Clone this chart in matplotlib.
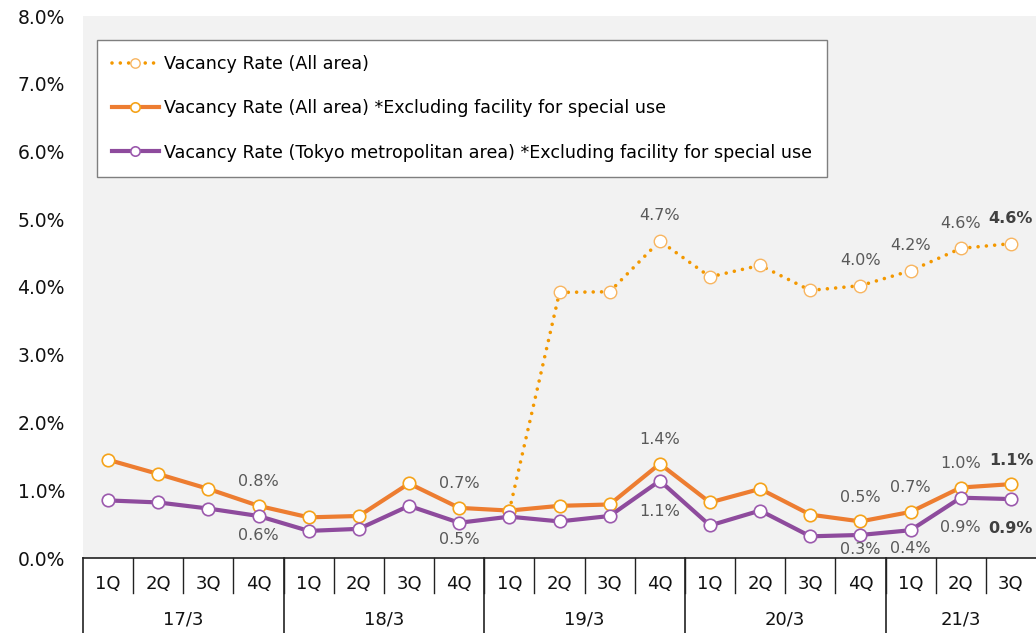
import matplotlib
matplotlib.use("Agg")
import matplotlib.pyplot as plt
import numpy as np

# quarters / fiscal years on the x axis
quarters = ["1Q", "2Q", "3Q", "4Q"] * 4 + ["1Q", "2Q", "3Q"]
years = ["17/3", "18/3", "19/3", "20/3", "21/3"]
year_sizes = [4, 4, 4, 4, 3]

# vacancy rates in %
all_area = [np.nan] * 8 + [0.70, 3.92, 3.93, 4.68, 4.15, 4.32, 3.95, 4.02, 4.24, 4.57, 4.64]
all_excl = [1.45, 1.24, 1.02, 0.77, 0.60, 0.62, 1.10, 0.74, 0.70, 0.77, 0.79, 1.39,
            0.82, 1.02, 0.64, 0.54, 0.68, 1.04, 1.09]
tokyo_excl = [0.85, 0.82, 0.73, 0.62, 0.40, 0.43, 0.77, 0.52, 0.61, 0.54, 0.62, 1.14,
              0.48, 0.70, 0.32, 0.34, 0.41, 0.89, 0.87]

labels = ["Vacancy Rate (All area)",
          "Vacancy Rate (All area) *Excluding facility for special use",
          "Vacancy Rate (Tokyo metropolitan area) *Excluding facility for special use"]

# which points carry a data label
all_area_lbl = [11, 15, 16, 17, 18]
all_excl_lbl = [3, 7, 11, 15, 16, 17, 18]
tokyo_lbl = [3, 7, 11, 15, 16, 17, 18]

W, H = 1036, 633
fig = plt.figure(figsize=(W / 100, H / 100), dpi=100)
left, right, bottom, top = 83, 1036, 558, 16
ax = fig.add_axes([left / W, 1 - bottom / H, (right - left) / W, (bottom - top) / H])
ax.set_facecolor("#f2f2f2")

x = np.arange(len(quarters))
c_dot = "#f39800"
c_org = "#ed7d31"
c_pur = "#8e4b9d"

ax.plot(x, all_area, color=c_dot, lw=2.6, linestyle=(0, (0.001, 2.3)),
        dash_capstyle="round", marker="o", ms=9, mfc="white", mec="#f8b560",
        mew=1, label=labels[0], zorder=3)
ax.plot(x, all_excl, color=c_org, lw=3, marker="o", ms=9, mfc="white",
        mec="#f5a31a", mew=1.2, label=labels[1], zorder=4)
ax.plot(x, tokyo_excl, color=c_pur, lw=3, marker="o", ms=9, mfc="white",
        mec="#9b59ad", mew=1.2, label=labels[2], zorder=4)

last = len(quarters) - 1


def put_labels(vals, idxs, dy_px):
    for i in idxs:
        dy = dy_px[i] if isinstance(dy_px, dict) else dy_px
        bold = i == last
        ax.annotate(f"{vals[i]:.1f}%", (x[i], vals[i]), xytext=(0, dy * 0.72),
                    textcoords="offset points", ha="center", va="center",
                    fontsize=11.5, color="#404040" if bold else "#595959",
                    fontweight="bold" if bold else "normal", zorder=5,
                    annotation_clip=False)


put_labels(all_area, all_area_lbl, 25)
put_labels(all_excl, all_excl_lbl, 24)
put_labels(tokyo_excl, tokyo_lbl, {3: -20, 7: -17, 11: -31, 15: -15, 16: -18, 17: -30, 18: -29})

ax.set_xlim(-0.5, len(quarters) - 0.5)
ax.set_ylim(0, 8)
ax.set_yticks(range(0, 9))
ax.set_yticklabels([f"{v:.1f}%" for v in range(0, 9)])
ax.tick_params(axis="y", length=0, pad=13, labelsize=13.5, labelcolor="#111111")
ax.set_xticks([])
for s in ["top", "right", "left"]:
    ax.spines[s].set_visible(False)
ax.spines["bottom"].set_color("#222222")
ax.spines["bottom"].set_linewidth(1.2)

# two level category axis drawn as a small table
ah = bottom - top
trans = ax.get_xaxis_transform()
for i in range(1, len(quarters)):
    ax.plot([i - 0.5, i - 0.5], [0, -35 / ah], transform=trans, color="#222222",
            lw=1, clip_on=False)
bounds = np.concatenate([[0], np.cumsum(year_sizes)]) - 0.5
for b in bounds[:-1]:
    ax.plot([b, b], [0, -(H - bottom) / ah], transform=trans, color="#222222",
            lw=1.2, clip_on=False)
for i, q in enumerate(quarters):
    ax.text(i, -26 / ah, q, transform=trans, ha="center", va="center", fontsize=13,
            color="#111111")
for j, yr in enumerate(years):
    ax.text((bounds[j] + bounds[j + 1]) / 2, -62 / ah, yr, transform=trans,
            ha="center", va="center", fontsize=13, color="#111111")

leg = ax.legend(loc="upper left", bbox_to_anchor=((97 - left) / (right - left), (bottom - 40) / ah),
                borderaxespad=0, fontsize=12.65, frameon=True, fancybox=False,
                handlelength=2.67, handletextpad=0.3, labelspacing=1.5, borderpad=0.85,
                markerscale=0.75)
leg.get_frame().set_edgecolor("#7f7f7f")
leg.get_frame().set_linewidth(1)
leg.get_frame().set_facecolor("white")
leg.get_frame().set_alpha(1)

fig.savefig("out.png", dpi=100)
